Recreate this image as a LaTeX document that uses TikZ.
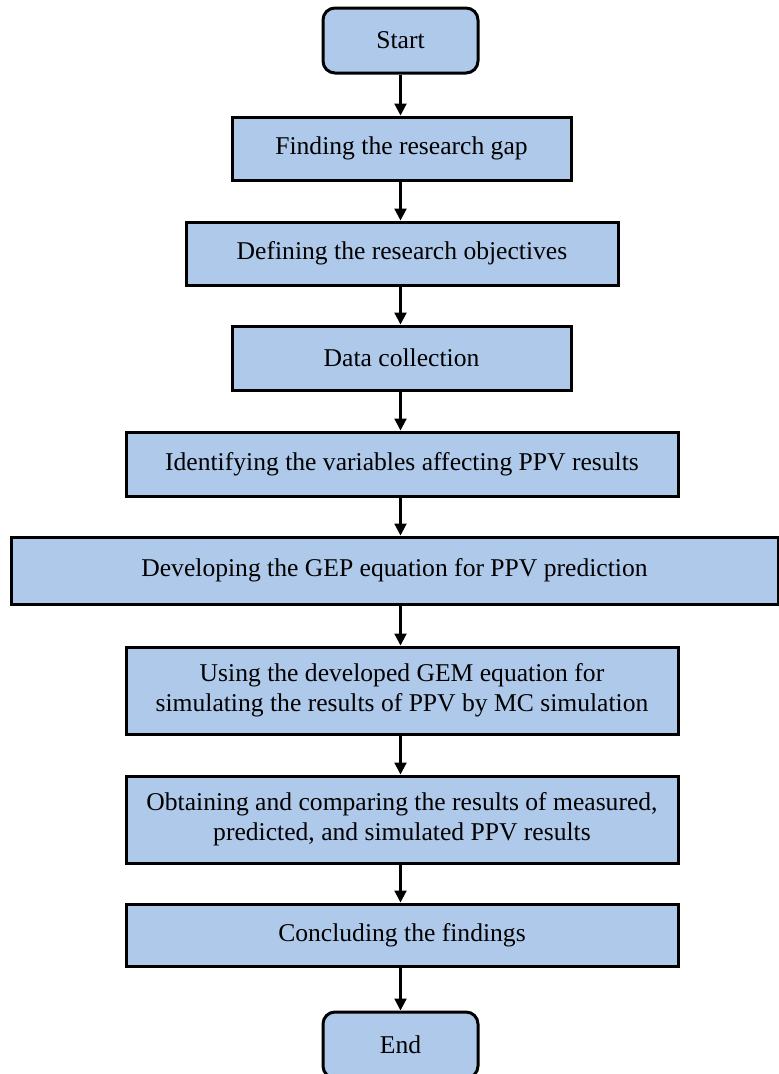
\documentclass[tikz,border=0pt]{standalone}
\usepackage{fontspec}
\setmainfont{Liberation Serif}
\usetikzlibrary{positioning,arrows.meta}
\definecolor{boxblue}{RGB}{174,201,234}
\tikzset{stepbox/.style={draw=black,line width=3pt,fill=boxblue,align=center,inner sep=0pt,font=\fontsize{25.6}{30}\selectfont}}
\tikzset{terminal/.style={stepbox,rounded corners=12pt,minimum width=155pt,minimum height=65pt}}
\tikzset{flow/.style={-{Triangle[length=12pt,width=12pt]},line width=2.2pt}}

\begin{document}
\begin{tikzpicture}[x=1pt,y=-1pt]
  \useasboundingbox (0,0) rectangle (779,1074);
  \node[terminal] (start) at (400.5,40.5) {Start};
  \node[stepbox,minimum width=339pt,minimum height=63pt] (gap) at (401.5,148.5) {Finding the research gap};
  \node[stepbox,minimum width=432pt,minimum height=63pt] (obj) at (402,253.5) {Defining the research objectives};
  \node[stepbox,minimum width=339pt,minimum height=64pt] (data) at (401.5,358) {Data collection};
  \node[stepbox,minimum width=552pt,minimum height=64pt] (vars) at (402,464) {Identifying the variables affecting PPV results};
  \node[stepbox,minimum width=767pt,minimum height=67pt] (gep) at (394.5,570.5) {Developing the GEP equation for PPV prediction};
  \node[stepbox,minimum width=552pt,minimum height=87pt] (mc) at (402,690.5) {Using the developed GEM equation for\\simulating the results of PPV by MC simulation};
  \node[stepbox,minimum width=552pt,minimum height=87pt] (cmp) at (402,819.5) {Obtaining and comparing the results of measured,\\predicted, and simulated PPV results};
  \node[stepbox,minimum width=552pt,minimum height=62pt] (concl) at (402,935) {Concluding the findings};
  \node[terminal,minimum height=66pt] (end) at (400.5,1045) {End};

  \draw[flow] (start) -- (start |- gap.north);
  \draw[flow] (start |- gap.south) -- (start |- obj.north);
  \draw[flow] (start |- obj.south) -- (start |- data.north);
  \draw[flow] (start |- data.south) -- (start |- vars.north);
  \draw[flow] (start |- vars.south) -- (start |- gep.north);
  \draw[flow] (start |- gep.south) -- (start |- mc.north);
  \draw[flow] (start |- mc.south) -- (start |- cmp.north);
  \draw[flow] (start |- cmp.south) -- (start |- concl.north);
  \draw[flow] (start |- concl.south) -- (end);
\end{tikzpicture}
\end{document}
